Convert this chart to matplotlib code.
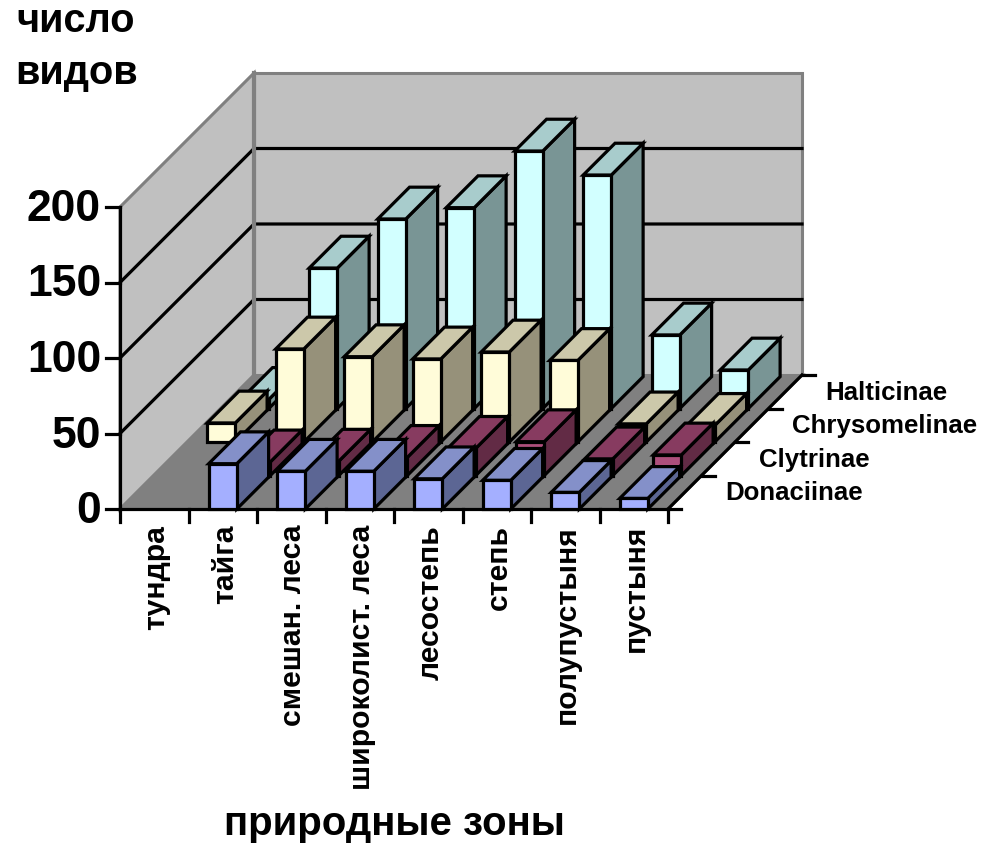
import matplotlib
matplotlib.use('Agg')
import matplotlib.pyplot as plt
from matplotlib.patches import Polygon

plt.rcParams['font.family'] = ['Liberation Sans', 'DejaVu Sans']
plt.rcParams['font.weight'] = 'bold'

# Данные: число видов по природным зонам
zones = ['тундра', 'тайга', 'смешан. леса', 'широколист. леса', 'лесостепь',
         'степь', 'полупустыня', 'пустыня']
series_names = ['Donaciinae', 'Clytrinae', 'Chrysomelinae', 'Halticinae']
donaciinae = [0, 30, 25, 25, 20, 19, 11, 7]
clytrinae = [0, 9, 9.5, 12, 18, 22.4, 11, 13.6]
chrysomelinae = [12.6, 61.6, 56.5, 55, 59.6, 54, 12, 11]
halticinae = [6, 93, 125.5, 133, 170.5, 154.6, 48.7, 25.5]
yticks = [0, 50, 100, 150, 200]

values = [donaciinae, clytrinae, chrysomelinae, halticinae]
# цвета граней: перед, верх, бок
face_colors = [
    ('#A4AFFF', '#8490C9', '#5C6694'),
    ('#AD4F7C', '#873B60', '#622B45'),
    ('#FFFCD9', '#CCC8AA', '#96917A'),
    ('#D2FFFF', '#A8CCCC', '#799595'),
]

# Косоугольная проекция в пикселях
X0, Y0 = 120, 509
CAT_W = 68.5
DEPTH_DX, DEPTH_DY = 33.5, 33.5
UNIT = 1.51
BAR_W = 0.41
BAR_D = 0.95
YMAX = 200


def project(cat, depth, val):
    return (X0 + cat * CAT_W + depth * DEPTH_DX,
            Y0 - depth * DEPTH_DY - val * UNIT)


fig = plt.figure(figsize=(9.87, 8.49), dpi=100)
ax = fig.add_axes([0, 0, 1, 1])
ax.set_xlim(0, 987)
ax.set_ylim(849, 0)
ax.axis('off')

n_cat = len(zones)
n_ser = len(series_names)
LW = 2.3


def quad(points, fc, ec='black', lw=LW, z=1):
    ax.add_patch(Polygon(points, closed=True, facecolor=fc, edgecolor=ec,
                         linewidth=lw, joinstyle='miter', zorder=z))


# Стены и пол
quad([project(0, 0, 0), project(0, n_ser, 0), project(n_cat, n_ser, 0), project(n_cat, 0, 0)],
     '#808080', ec='#808080', lw=2.2)
quad([project(0, 0, 0), project(0, n_ser, 0), project(0, n_ser, YMAX), project(0, 0, YMAX)],
     '#C0C0C0', ec='#808080', lw=2.2)
quad([project(0, n_ser, 0), project(n_cat, n_ser, 0), project(n_cat, n_ser, YMAX), project(0, n_ser, YMAX)],
     '#C0C0C0', ec='#808080', lw=2.2)

# Линии сетки
for v in yticks[1:-1]:
    pts = [project(0, 0, v), project(0, n_ser, v), project(n_cat, n_ser, v)]
    ax.plot(*zip(*pts), color='black', lw=LW, zorder=2, solid_joinstyle='miter')
# серое ребро в углу стен поверх сетки
ax.plot(*zip(project(0, n_ser, 0), project(0, n_ser, YMAX)), color='#808080', lw=3, zorder=2.5)

# Оси
ax.plot(*zip(project(0, 0, 0), project(0, 0, YMAX)), color='black', lw=LW, zorder=2.6)
ax.plot(*zip(project(0, 0, 0), project(n_cat, 0, 0)), color='black', lw=LW, zorder=2.6)
ax.plot(*zip(project(n_cat, 0, 0), project(n_cat, n_ser, 0)), color='black', lw=LW, zorder=2.6)
for v in yticks:
    x, y = project(0, 0, v)
    ax.plot([x - 14, x], [y, y], color='black', lw=LW, zorder=2.6)
    ax.text(x - 19, y - 2, str(v), ha='right', va='center_baseline', fontsize=32)
for i in range(n_cat + 1):
    x, y = project(i, 0, 0)
    ax.plot([x, x], [y, y + 13], color='black', lw=LW, zorder=2.6)
for d in range(n_ser + 1):
    x, y = project(n_cat, d, 0)
    ax.plot([x, x + 13], [y, y], color='black', lw=LW, zorder=2.6)

# Столбцы: от дальнего ряда к ближнему
z = 3
for d in range(n_ser - 1, -1, -1):
    front, top, side = face_colors[d]
    for c in range(n_cat):
        v = values[d][c]
        if v <= 0:
            continue
        left = c + (1 - BAR_W) / 2
        right = left + BAR_W
        back = d + BAR_D
        quad([project(right, d, 0), project(right, back, 0), project(right, back, v), project(right, d, v)], side, z=z)
        quad([project(left, d, v), project(right, d, v), project(right, back, v), project(left, back, v)], top, z=z)
        quad([project(left, d, 0), project(right, d, 0), project(right, d, v), project(left, d, v)], front, z=z)
        z += 1

# Подписи
for i, name in enumerate(zones):
    x, y = project(i + 0.5, 0, 0)
    ax.text(x + 2, y + 16, name, rotation=90, ha='center', va='top', fontsize=21.7)
for d, name in enumerate(series_names):
    x, y = project(n_cat, d, 0)
    ax.text(x + 57, y - 16, name, ha='left', va='center', fontsize=18.6)

ax.text(16, 21, 'число', ha='left', va='center', fontsize=28.6)
ax.text(15, 73, 'видов', ha='left', va='center', fontsize=28.6)
ax.text(394, 824, 'природные зоны', ha='center', va='center', fontsize=28.9)

fig.savefig('out.png', dpi=100)
